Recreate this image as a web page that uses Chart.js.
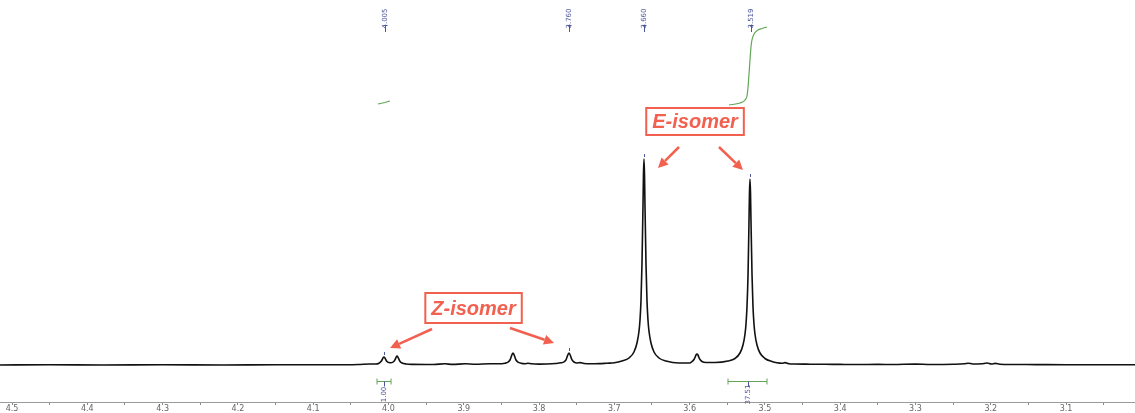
<!DOCTYPE html>
<html>
<head>
<meta charset="utf-8">
<script src="https://cdn.jsdelivr.net/npm/chart.js@4.4.1/dist/chart.umd.min.js"></script>
<style>
  html, body { margin:0; padding:0; background:#fff; }
  #wrap { position:relative; width:1135px; height:413px; }
</style>
</head>
<body>
<div id="wrap"><canvas id="nmr"></canvas></div>
<script>
// 1H NMR trace, chemical shift (ppm) against intensity
const shiftPpm = [
  4.516, 4.45, 4.38, 4.30, 4.22, 4.15, 4.08, 4.04, 4.025,
  4.0166, 4.0126, 4.0099, 4.0086, 4.0073, 4.0060, 4.0047, 4.0033, 4.0020, 3.9993,
  3.9966, 3.9926, 3.9913, 3.9899, 3.9886, 3.9873, 3.9859, 3.9846, 3.9819, 3.9767, 3.9687,
  3.950, 3.940, 3.925, 3.915, 3.898, 3.885, 3.865, 3.855,
  3.8452, 3.8412, 3.8386, 3.8373, 3.8359, 3.8346, 3.8333, 3.8319, 3.8306, 3.8280, 3.8240, 3.8187,
  3.8147, 3.810, 3.800, 3.790, 3.778,
  3.7708, 3.7668, 3.7642, 3.7629, 3.7615, 3.7602, 3.7589, 3.7576, 3.7562, 3.7536, 3.7496, 3.7456, 3.7403,
  3.730, 3.720, 3.710, 3.700,
  3.6898, 3.6805, 3.6739, 3.6699, 3.6672, 3.6659, 3.6646, 3.6633, 3.6619, 3.6613, 3.6606,
  3.6599, 3.6593, 3.6579, 3.6566, 3.6553, 3.6540, 3.6513, 3.6473, 3.6407, 3.6314, 3.6141,
  3.600, 3.5968, 3.5942, 3.5929, 3.5915, 3.5902, 3.5889, 3.5876, 3.5862, 3.5836, 3.5782,
  3.5663, 3.5490, 3.5397, 3.5331, 3.5291, 3.5264, 3.5251, 3.5238, 3.5224, 3.5211, 3.5205, 3.5198,
  3.5191, 3.5185, 3.5171, 3.5158, 3.5145, 3.5132, 3.5105, 3.5065, 3.4999, 3.4906,
  3.484, 3.4773, 3.4733, 3.468, 3.460, 3.440, 3.420, 3.400, 3.380, 3.350, 3.330, 3.300, 3.280, 3.250,
  3.235, 3.230, 3.224, 3.212, 3.205, 3.199, 3.194, 3.188, 3.170, 3.140, 3.100, 3.060, 3.008
];
const intensity = [
  0, 0.3, 0, 0.3, 0, 0.3, 0.2, 0.5, 1.0,
  1.0, 1.8, 3.5, 5, 7, 8, 7, 5, 3.5, 2.5,
  2.3, 3.8, 5.4, 7.6, 9, 7.6, 5.4, 3.6, 2, 1, 0.6,
  0.5, 0.5, 1.2, 0.6, 1.2, 0.7, 1.3, 1.2,
  1.8, 2.8, 5, 7.5, 10.5, 12, 10.5, 7.5, 5, 2.8, 1.8, 1.3,
  1.8, 1.2, 0.9, 1.0, 1.5,
  2.2, 3.2, 5.2, 7.8, 10.5, 12, 10.5, 7.8, 5.2, 3, 2, 2.4, 1.5,
  1.2, 1.4, 1.8, 2.2,
  4, 7, 13, 22, 34, 45, 64, 100, 160, 190, 206,
  190, 160, 100, 64, 45, 34, 22, 13, 7, 4, 2,
  2, 3.5, 5.5, 7.5, 10, 11, 10, 7.5, 5.5, 3.5, 2.5,
  2.5, 4, 6.5, 12, 20, 31, 41, 58, 90, 145, 172, 186,
  172, 145, 90, 58, 41, 31, 20, 12, 6.5, 3.5,
  2.3, 1.8, 2.4, 1.3, 1.0, 0.8, 0.7, 0.6, 0.5, 0.6, 0.5, 0.9, 0.5, 0.7,
  1.2, 1.8, 1.0, 1.2, 2.0, 1.0, 1.6, 0.8, 0.5, 0.4, 0.3, 0.3, 0.2
];

// integral curves (green)
const integE_ppm = [3.5477, 3.5331, 3.5264, 3.5238, 3.5225, 3.5212, 3.5198, 3.5185, 3.5172, 3.5145, 3.5092, 3.5039, 3.4972];
const integE_val = [260, 262, 265, 269, 277, 290, 305, 318, 325, 331, 335, 336.5, 338];
const integZ_ppm = [4.0139, 4.0046, 3.9980];
const integZ_val = [261, 262.5, 264];

// peak picks and integrals
const peakLabels = ['4.005', '3.760', '3.660', '3.519'];
const integRanges = [[4.0152, 3.9966], [3.549, 3.4972]];
const integLabels = ['1.00', '37.51'];

// x axis
const axisMin = 3.0084;
const axisMax = 4.516;
const tickStep = 0.05;

const toPts = (xs, ys) => xs.map((v, i) => ({x: v, y: ys[i]}));

const RED = '#f2604f';
const BLUE = '#4b559c';
const GREEN = '#62a656';

const notes = {
    id: 'notes',
    afterDatasetsDraw(chart) {
        const {ctx, scales:{x, y}} = chart;
        ctx.save();

        /* ---------------- peak picks ---------------- */
        ctx.font = '7px "DejaVu Sans", sans-serif';
        ctx.fillStyle = BLUE;
        ctx.strokeStyle = BLUE;
        ctx.lineWidth = 1;
        ctx.textAlign = 'center';
        ctx.textBaseline = 'middle';
        peakLabels.forEach(lbl => {
            const ppm = parseFloat(lbl);
            const px = Math.round(x.getPixelForValue(ppm)) + 0.5;
            ctx.save();
            ctx.translate(px, 18.5);
            ctx.rotate(-Math.PI/2);
            ctx.fillText(lbl, 0, 0);
            ctx.restore();
            ctx.beginPath();
            ctx.moveTo(px-2, 25.5); ctx.lineTo(px+2, 25.5);
            ctx.moveTo(px, 25.5); ctx.lineTo(px, 32);
            ctx.stroke();
            // little mark on top of the peak
            let top = 0, at = ppm;
            shiftPpm.forEach((s, i) => {
                if(Math.abs(s - ppm) < 0.004 && intensity[i] > top){ top = intensity[i]; at = s; }
            });
            const tx = Math.round(x.getPixelForValue(at)) + 0.5;
            const ty = y.getPixelForValue(top);
            ctx.beginPath();
            ctx.moveTo(tx, ty-5); ctx.lineTo(tx, ty-2);
            ctx.stroke();
        });

        /* ---------------- integral brackets ---------------- */
        const by = Math.round(y.getPixelForValue(-16)) + 0.5;
        integRanges.forEach((r, i) => {
            const x1 = x.getPixelForValue(r[0]);
            const x2 = x.getPixelForValue(r[1]);
            const cx = Math.round((x1 + x2)/2) + 0.5;
            ctx.strokeStyle = GREEN;
            ctx.beginPath();
            ctx.moveTo(x1, by); ctx.lineTo(x2, by);
            ctx.moveTo(x1, by-3); ctx.lineTo(x1, by+3);
            ctx.moveTo(x2, by-3); ctx.lineTo(x2, by+3);
            ctx.stroke();
            ctx.strokeStyle = BLUE;
            ctx.beginPath();
            ctx.moveTo(cx, by); ctx.lineTo(cx, by+5);
            ctx.stroke();
            ctx.save();
            ctx.translate(cx, by+13);
            ctx.rotate(-Math.PI/2);
            ctx.fillStyle = BLUE;
            ctx.fillText(integLabels[i], 0, 0);
            ctx.restore();
        });

        /* ---------------- isomer call-outs ---------------- */
        const box = (txt, ppm, val, h) => {
            const cx = x.getPixelForValue(ppm);
            const cy = y.getPixelForValue(val);
            ctx.font = 'italic bold 20px "Liberation Sans", Arial, sans-serif';
            const w = ctx.measureText(txt).width + 12;
            ctx.fillStyle = '#fff';
            ctx.fillRect(cx - w/2, cy - h/2, w, h);
            ctx.strokeStyle = RED;
            ctx.lineWidth = 2;
            ctx.strokeRect(cx - w/2, cy - h/2, w, h);
            ctx.fillStyle = RED;
            ctx.textAlign = 'center';
            ctx.textBaseline = 'middle';
            ctx.fillText(txt, cx, cy + 1);
        };
        const arrow = (p1, v1, p2, v2) => {
            const ax = x.getPixelForValue(p1), ay = y.getPixelForValue(v1);
            const bx = x.getPixelForValue(p2), byy = y.getPixelForValue(v2);
            const ang = Math.atan2(byy - ay, bx - ax);
            const hl = 10, hw = 5;
            const sx = bx - hl*Math.cos(ang), sy = byy - hl*Math.sin(ang);
            ctx.strokeStyle = RED;
            ctx.lineWidth = 2.5;
            ctx.beginPath();
            ctx.moveTo(ax, ay); ctx.lineTo(sx, sy);
            ctx.stroke();
            ctx.fillStyle = RED;
            ctx.beginPath();
            ctx.moveTo(bx, byy);
            ctx.lineTo(sx + hw*Math.sin(ang), sy - hw*Math.cos(ang));
            ctx.lineTo(sx - hw*Math.sin(ang), sy + hw*Math.cos(ang));
            ctx.closePath();
            ctx.fill();
        };
        box('E-isomer', 3.5928, 243.5, 27);
        arrow(3.6141, 218, 3.6420, 197);
        arrow(3.5610, 218, 3.5291, 195);
        box('Z-isomer', 3.8870, 57, 30);
        arrow(3.9422, 36, 3.9979, 17);
        arrow(3.8386, 37, 3.7801, 22);

        ctx.restore();
    }
};

new Chart(document.getElementById('nmr').getContext('2d'), {
    type: 'line',
    data: {
        datasets: [
            { data: toPts(shiftPpm, intensity), borderColor:'#111', borderWidth:1.6, pointRadius:0, cubicInterpolationMode:'monotone', borderJoinStyle:'round' },
            { data: toPts(integE_ppm, integE_val), borderColor:GREEN, borderWidth:1.2, pointRadius:0, cubicInterpolationMode:'monotone' },
            { data: toPts(integZ_ppm, integZ_val), borderColor:GREEN, borderWidth:1.2, pointRadius:0, tension:0 }
        ]
    },
    options: {
        responsive: true,
        maintainAspectRatio: false,
        animation: false,
        layout: { padding: 0 },
        plugins: { legend:{display:false}, tooltip:{enabled:false} },
        scales: {
            x: {
                type: 'linear',
                reverse: true,
                min: axisMin,
                max: axisMax,
                grid: { drawOnChartArea:false, drawTicks:true, tickLength:3, color:'#888' },
                border: { display:true, color:'#9a9a9a' },
                ticks: {
                    stepSize: tickStep,
                    includeBounds: false,
                    autoSkip: false,
                    maxRotation: 0,
                    padding: 0,
                    color: '#666',
                    font: { size:8, lineHeight:1, family:'"DejaVu Sans", sans-serif' },
                    callback: (v) => Math.abs(v*10 - Math.round(v*10)) < 1e-6 ? v.toFixed(1) : ''
                }
            },
            y: { display:false, min:-37, max:365 }
        }
    },
    plugins: [notes]
});
</script>
</body>
</html>
